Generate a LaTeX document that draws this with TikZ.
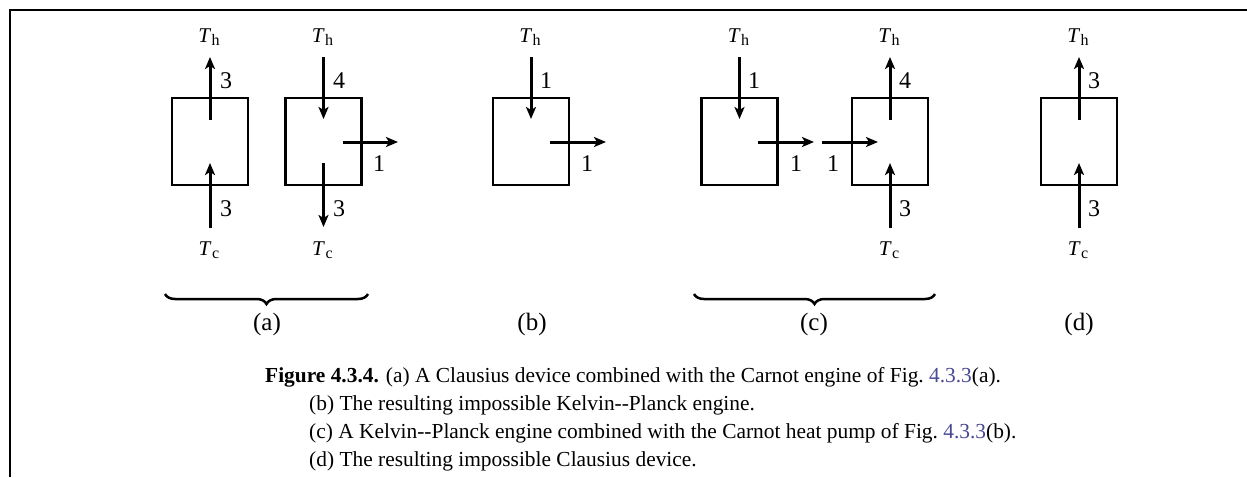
\documentclass[tikz,border=0pt]{standalone}
\usepackage{fontspec}
\setmainfont{Liberation Serif}
\usetikzlibrary{arrows.meta,decorations.pathreplacing}
\definecolor{linkc}{RGB}{72,72,150}
\newcommand{\Tlab}[1]{\textit{T}\kern0.5pt\raisebox{-3.5pt}{\fontsize{16}{16}\selectfont #1}}
\begin{document}
\begin{tikzpicture}[x=1pt,y=-1pt,
  devbox/.style={draw,line width=2.2pt,minimum width=76pt,minimum height=87pt,inner sep=0pt},
  flow/.style={line width=3pt,-{Stealth[length=12pt,width=10pt,inset=3pt]}},
  temp/.style={anchor=base,inner sep=0pt,font=\fontsize{21}{21}\selectfont},
  qlab/.style={anchor=base,inner sep=0pt,font=\fontsize{24}{24}\selectfont},
  sublab/.style={inner sep=0pt,font=\fontsize{25}{25}\selectfont},
  capline/.style={anchor=base west,inner sep=0pt,font=\fontsize{21.4}{21.4}\selectfont},
  bracestyle/.style={line width=2.5pt,decorate,decoration={brace,mirror,amplitude=10pt}}]
\useasboundingbox (0,0) rectangle (1247,477);
\draw[line width=2pt] (10,477) -- (10,10) -- (1247,10);

% ---------- (a) left: Clausius device ----------
\node[devbox] (a1) at (210,141.5) {};
\coordinate (a1ti) at (210,120);
\coordinate (a1to) at (210,57);
\coordinate (a1bo) at (210,228);
\coordinate (a1bi) at (210,163);
\draw[flow] (a1ti) -- (a1to);
\draw[flow] (a1bo) -- (a1bi);
\node[temp] (a1h) at (209,42) {\Tlab{h}};
\node[temp] (a1c) at (209,255) {\Tlab{c}};
\node[qlab] (a1q1) at (226,88) {3};
\node[qlab] (a1q2) at (226,216) {3};

% ---------- (a) right: Carnot engine ----------
\node[devbox] (a2) at (323.5,141.5) {};
\coordinate (a2to) at (323.5,57);
\coordinate (a2ti) at (323.5,119);
\coordinate (a2bi) at (323.5,163);
\coordinate (a2bo) at (323.5,227);
\coordinate (a2ri) at (343,142);
\coordinate (a2ro) at (398,142);
\draw[flow] (a2to) -- (a2ti);
\draw[flow] (a2bi) -- (a2bo);
\draw[flow] (a2ri) -- (a2ro);
\node[temp] (a2h) at (322.5,42) {\Tlab{h}};
\node[temp] (a2c) at (322.5,255) {\Tlab{c}};
\node[qlab] (a2q1) at (339,88) {4};
\node[qlab] (a2q2) at (339,216) {3};
\node[qlab] (a2q3) at (379,171) {1};

\coordinate (brAl) at (165,294);
\coordinate (brAr) at (368,294);
\draw[bracestyle] (brAl) -- (brAr);
\node[sublab] (la) at (267,324) {(a)};

% ---------- (b) ----------
\node[devbox] (b1) at (531,141.5) {};
\coordinate (b1to) at (531,57);
\coordinate (b1ti) at (531,119);
\coordinate (b1ri) at (550,142);
\coordinate (b1ro) at (606,142);
\draw[flow] (b1to) -- (b1ti);
\draw[flow] (b1ri) -- (b1ro);
\node[temp] (b1h) at (530,42) {\Tlab{h}};
\node[qlab] (b1q1) at (546,88) {1};
\node[qlab] (b1q2) at (587,171) {1};
\node[sublab] (lb) at (532,324) {(b)};

% ---------- (c) left: Kelvin--Planck engine ----------
\node[devbox] (c1) at (739.5,141.5) {};
\coordinate (c1to) at (739.5,57);
\coordinate (c1ti) at (739.5,119);
\coordinate (c1ri) at (758,142);
\coordinate (c1ro) at (814,142);
\draw[flow] (c1to) -- (c1ti);
\draw[flow] (c1ri) -- (c1ro);
\node[temp] (c1h) at (738.5,42) {\Tlab{h}};
\node[qlab] (c1q1) at (754,88) {1};
\node[qlab] (c1q2) at (796,171) {1};

% ---------- (c) right: Carnot heat pump ----------
\node[devbox] (c2) at (890,141.5) {};
\coordinate (c2ti) at (890,120);
\coordinate (c2to) at (890,57);
\coordinate (c2bo) at (890,228);
\coordinate (c2bi) at (890,163);
\coordinate (c2li) at (822,142);
\coordinate (c2lo) at (878,142);
\draw[flow] (c2ti) -- (c2to);
\draw[flow] (c2bo) -- (c2bi);
\draw[flow] (c2li) -- (c2lo);
\node[temp] (c2h) at (889,42) {\Tlab{h}};
\node[temp] (c2c) at (889,255) {\Tlab{c}};
\node[qlab] (c2q1) at (905,88) {4};
\node[qlab] (c2q2) at (905,216) {3};
\node[qlab] (c2q3) at (833,171) {1};

\coordinate (brCl) at (694,294);
\coordinate (brCr) at (935,294);
\draw[bracestyle] (brCl) -- (brCr);
\node[sublab] (lc) at (814,324) {(c)};

% ---------- (d) ----------
\node[devbox] (d1) at (1079,141.5) {};
\coordinate (d1ti) at (1079,120);
\coordinate (d1to) at (1079,57);
\coordinate (d1bo) at (1079,228);
\coordinate (d1bi) at (1079,163);
\draw[flow] (d1ti) -- (d1to);
\draw[flow] (d1bo) -- (d1bi);
\node[temp] (d1h) at (1078,42) {\Tlab{h}};
\node[temp] (d1c) at (1078,255) {\Tlab{c}};
\node[qlab] (d1q1) at (1094,88) {3};
\node[qlab] (d1q2) at (1094,216) {3};
\node[sublab] (ld) at (1079,324) {(d)};

% ---------- caption ----------
\node[capline] (cap1) at (265,382) {\textbf{Figure 4.3.4.}\hspace{7pt}(a) A Clausius device combined with the Carnot engine of Fig.\ \textcolor{linkc}{4.3.3}(a).};
\node[capline] (cap2) at (309,410) {(b) The resulting impossible Kelvin-{}-Planck engine.};
\node[capline] (cap3) at (309,438) {(c) A Kelvin-{}-Planck engine combined with the Carnot heat pump of Fig.\ \textcolor{linkc}{4.3.3}(b).};
\node[capline] (cap4) at (309,466) {(d) The resulting impossible Clausius device.};
\end{tikzpicture}
\end{document}
